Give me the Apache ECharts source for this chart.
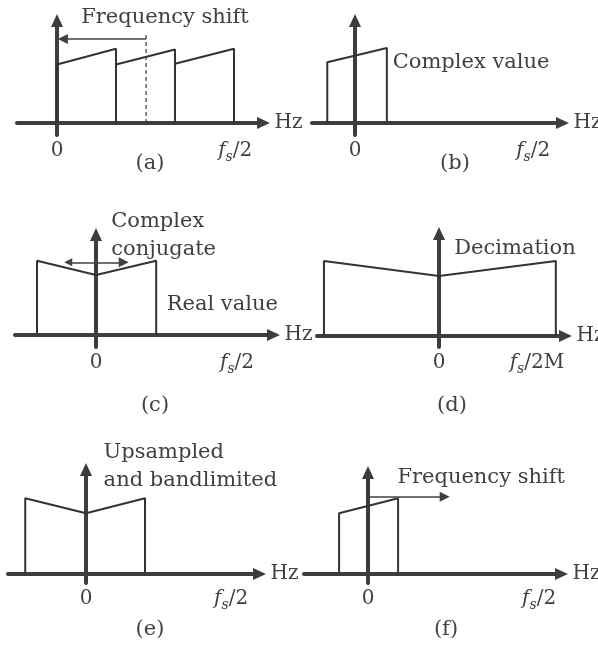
<!DOCTYPE html>
<html><head><meta charset="utf-8">
<script src="https://cdn.jsdelivr.net/npm/echarts@6/dist/echarts.min.js"></script>
<style>html,body{margin:0;padding:0;background:#fff}#c{width:598px;height:657px}</style>
</head><body><div id="c"></div><script>
// ---------------- data (x in band units, y in relative magnitude) ----------------
// blocks: [xStart, xEnd, heightAtStart, heightAtEnd]
const blocksA = [[0, 1, 0.78, 0.99], [1, 2, 0.78, 0.98], [2, 3, 0.79, 0.99]];
const blocksB = [[-0.47, 0.54, 0.81, 1.0]];
// symmetric spectra: [[leftEdge, leftHeight], [0, centreHeight], [rightEdge, rightHeight]]
const spectrumC = [[-1.0, 0.99], [0, 0.80], [1.02, 0.99]];
const spectrumD = [[-1.95, 1.0], [0, 0.80], [1.98, 1.0]];
const spectrumE = [[-1.03, 1.01], [0, 0.81], [1.0, 1.01]];
const blocksF = [[-0.49, 0.51, 0.81, 1.01]];
// tick positions / labels
const tickValsA = [0, 3.02];
const tickValsB = [0, 3.02];
const tickValsC = [0, 2.39];
const tickValsD = [0, 1.66];
const tickValsE = [0, 2.46];
const tickValsF = [0, 2.9];
const tickLabels = ['0', 'fs/2'];
const tickLabelsD = ['0', 'fs/2M'];
const axisName = 'Hz';
const captions = ['(a)', '(b)', '(c)', '(d)', '(e)', '(f)'];
// arrows and guides
const shiftArrowA = [[1.51, 1.12], [0.1, 1.12]];
const dashedA = [[1.51, 0], [1.51, 1.21]];
const conjArrowC = [[-0.47, 0.97], [0.47, 0.97]];
const shiftArrowF = [[0, 1.03], [1.3, 1.03]];
// annotations: [text, x, y]
const notesA = [['Frequency shift', 1.83, 1.40]];
const notesB = [['Complex value', 0.63, 0.80]];
const notesC = [['Complex\nconjugate', 0.25, 1.33], ['Real value', 1.19, 0.40]];
const notesD = [['Decimation', 0.25, 1.17]];
const notesE = [['Upsampled\nand bandlimited', 0.29, 1.43]];
const notesF = [['Frequency shift', 0.49, 1.29]];

// ---------------- layout (pixels) ----------------
const SX = 59, SY = 75, AH = 13, AW = 12;
// yAxisX, axisY, xLeft, xTip, yTip, yBottom, caption x, caption y
const geo = [
  {yx: 57,  ay: 123, xl: 17,  xt: 270, yt: 14,  yb: 135, cx: 150, cy: 164},
  {yx: 355, ay: 123, xl: 312, xt: 569, yt: 14,  yb: 135, cx: 455, cy: 164},
  {yx: 96,  ay: 335, xl: 15,  xt: 280, yt: 228, yb: 347, cx: 155, cy: 406},
  {yx: 439, ay: 336, xl: 317, xt: 572, yt: 227, yb: 347, cx: 452, cy: 406},
  {yx: 86,  ay: 574, xl: 8,   xt: 266, yt: 463, yb: 583, cx: 150, cy: 630},
  {yx: 368, ay: 574, xl: 304, xt: 568, yt: 466, yb: 583, cx: 446, cy: 630}
];
const FONT = 'DejaVu Serif';
const INK = '#404040';
const AXIS = '#3d3d3d';
const LINE = '#333333';

const tickVals = [tickValsA, tickValsB, tickValsC, tickValsD, tickValsE, tickValsF];
const tickTexts = [tickLabels, tickLabels, tickLabels, tickLabelsD, tickLabels, tickLabels];

const grids = [], xAxes = [], yAxes = [], series = [], graphics = [];

function richLabel(t) {
  if (t.charAt(0) === 'f' && t.charAt(1) === 's') return '{f|f}{s|s}{n|' + t.slice(2) + '}';
  return '{n|' + t + '}';
}

geo.forEach(function (g, i) {
  const lineEnd = g.xt - AH / 2, topEnd = g.yt + AH / 2;
  grids.push({left: g.xl, top: topEnd, width: lineEnd - g.xl, height: g.yb - topEnd, outerBoundsMode: 'none', containLabel: false});
  const vals = tickVals[i], texts = tickTexts[i];
  xAxes.push({
    gridIndex: i, type: 'value',
    min: (g.xl - g.yx) / SX, max: (lineEnd - g.yx) / SX,
    axisLine: {show: true, onZero: true, symbol: ['none', 'triangle'], symbolSize: [AW, AH],
      lineStyle: {color: AXIS, width: 4}},
    axisTick: {show: false}, splitLine: {show: false},
    axisLabel: {show: true, customValues: vals, margin: 3,
      formatter: function (v) {
        let k = 0, best = 1e9;
        vals.forEach(function (u, j) { if (Math.abs(u - v) < best) { best = Math.abs(u - v); k = j; } });
        return richLabel(texts[k]);
      },
      rich: {
        f: {fontFamily: FONT, fontStyle: 'italic', fontSize: 20, lineHeight: 26, color: INK},
        s: {fontFamily: FONT, fontStyle: 'italic', fontSize: 14, lineHeight: 26, verticalAlign: 'bottom', color: INK},
        n: {fontFamily: FONT, fontSize: 20, lineHeight: 26, color: INK}
      }},
    name: axisName, nameLocation: 'end', nameGap: 11,
    nameTextStyle: {fontFamily: FONT, fontSize: 20, color: INK, verticalAlign: 'middle', align: 'left'}
  });
  yAxes.push({
    gridIndex: i, type: 'value',
    min: (g.ay - g.yb) / SY, max: (g.ay - topEnd) / SY,
    axisLine: {show: true, onZero: true, symbol: ['none', 'triangle'], symbolSize: [AW, AH],
      lineStyle: {color: AXIS, width: 4}},
    axisTick: {show: false}, splitLine: {show: false}, axisLabel: {show: false}
  });
  graphics.push({type: 'text', x: g.cx, y: g.cy,
    style: {text: captions[i], font: '21px "' + FONT + '"', fill: INK, align: 'center', verticalAlign: 'middle'}});
});

function lineSeries(i, data, extra) {
  return Object.assign({
    type: 'line', xAxisIndex: i, yAxisIndex: i, data: data, symbol: 'none', showSymbol: false,
    clip: false, animation: false, silent: true, z: 3,
    lineStyle: {color: LINE, width: 2}
  }, extra || {});
}
function addBlocks(i, blocks) {
  blocks.forEach(function (b) {
    series.push(lineSeries(i, [[b[0], 0], [b[0], b[2]], [b[1], b[3]], [b[1], 0]]));
  });
}
function addSpectrum(i, s) {
  series.push(lineSeries(i, [[s[0][0], 0], [s[0][0], s[0][1]], [s[1][0], s[1][1]], [s[2][0], s[2][1]], [s[2][0], 0]]));
}
function addArrow(i, pts, both) {
  series.push({
    type: 'lines', coordinateSystem: 'cartesian2d', xAxisIndex: i, yAxisIndex: i, clip: false,
    animation: false, silent: true, z: 4,
    symbol: [both ? 'triangle' : 'none', 'triangle'], symbolSize: [8, 10],
    lineStyle: {color: INK, width: 1.5, opacity: 1, curveness: 0},
    data: [{coords: pts}]
  });
}
function addNotes(i, notes) {
  notes.forEach(function (n) {
    const centred = (i === 0);
    series.push({
      type: 'scatter', xAxisIndex: i, yAxisIndex: i, clip: false, animation: false, silent: true,
      symbolSize: 1, itemStyle: {color: 'transparent', opacity: 1},
      data: [{name: n[0], value: [n[1], n[2]]}],
      label: {show: true, position: centred ? 'inside' : 'right', distance: 0, formatter: '{b}',
        fontFamily: FONT, fontSize: 21, color: INK, opacity: 1, lineHeight: 28, align: centred ? 'center' : 'left'}
    });
  });
}

addBlocks(0, blocksA);
series.push(lineSeries(0, dashedA, {lineStyle: {color: LINE, width: 1.2, type: [4, 3]}}));
addArrow(0, shiftArrowA, false);
addNotes(0, notesA);

addBlocks(1, blocksB);
addNotes(1, notesB);

addSpectrum(2, spectrumC);
addArrow(2, conjArrowC, true);
addNotes(2, notesC);

addSpectrum(3, spectrumD);
addNotes(3, notesD);

addSpectrum(4, spectrumE);
addNotes(4, notesE);

addBlocks(5, blocksF);
addArrow(5, shiftArrowF, false);
addNotes(5, notesF);

const chart = echarts.init(document.getElementById('c'), null, {renderer: 'canvas'});
chart.setOption({
  animation: false,
  backgroundColor: '#ffffff',
  grid: grids, xAxis: xAxes, yAxis: yAxes, series: series, graphic: graphics
});
</script></body></html>
